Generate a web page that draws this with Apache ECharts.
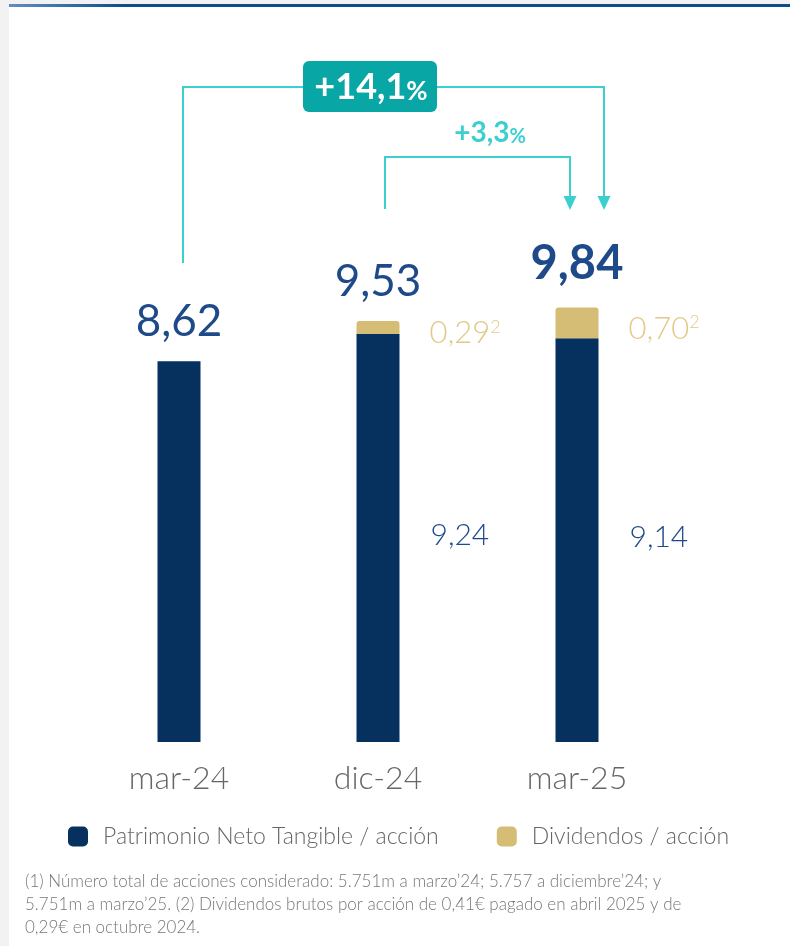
<!DOCTYPE html>
<html>
<head>
<meta charset="utf-8">
<script src="https://cdn.jsdelivr.net/npm/echarts@6/dist/echarts.min.js"></script>
<style>
body { margin: 0; background: #fff; }
#strip-left { position: absolute; left: 0; top: 0; width: 9px; height: 946px; background: #f2f2f2; }
#strip-top { position: absolute; left: 0; top: 0; width: 790px; height: 4px; background: #f2f2f2; }
#topline { position: absolute; left: 9px; top: 4px; width: 781px; height: 3px; background: linear-gradient(to right, #5f8fbf, #0b4c8c 15%, #0b4c8c); }
#chart { position: absolute; left: 0; top: 0; width: 790px; height: 946px; }
</style>
</head>
<body>
<div id="strip-left"></div>
<div id="strip-top"></div>
<div id="topline"></div>
<div id="chart"></div>
<script>
// datos
var periodos = ['mar-24', 'dic-24', 'mar-25'];
var pntAccion = [8.62, 9.24, 9.14];
var dividendos = [null, 0.29, 0.70];
var totales = [8.62, 9.53, 9.84];
var variaciones = ['+14,1', '+3,3'];
var notas = [
  '(1) Número total de acciones considerado: 5.751m a marzo’24; 5.757 a diciembre’24; y',
  '5.751m a marzo’25. (2) Dividendos brutos por acción de 0,41€ pagado en abril 2025 y de',
  '0,29€ en octubre 2024.'
];

var NAVY = '#06305e';
var GOLD = '#d6bd76';
var AZUL = '#1e4a8a';
var TEAL = '#09a6a6';
var CYAN = '#3ccfd0';
var FONT = 'Lato';

function coma(v) { return v.toFixed(2).replace('.', ','); }

var chart = echarts.init(document.getElementById('chart'));

chart.setOption({
  animation: false,
  textStyle: { fontFamily: FONT },
  grid: { left: 79.5, right: 113.5, top: 212, bottom: 204 },
  legend: {
    left: 63, top: 820,
    itemWidth: 20, itemHeight: 20, itemGap: 58,
    icon: 'roundRect',
    data: ['Patrimonio Neto Tangible / acción', 'Dividendos / acción'],
    textStyle: { fontFamily: FONT, fontWeight: 300, fontSize: 23, color: '#666', padding: [0, 0, 0, 10] }
  },
  xAxis: {
    type: 'category',
    data: periodos,
    axisLine: { show: false },
    axisTick: { show: false },
    axisLabel: { margin: 21, fontSize: 32, fontWeight: 300, color: '#666', fontFamily: FONT }
  },
  yAxis: { type: 'value', min: 0, max: 12, show: false, splitLine: { show: false } },
  series: [
    {
      name: 'Patrimonio Neto Tangible / acción',
      type: 'bar', stack: 'a', barWidth: 43,
      itemStyle: { color: NAVY },
      data: pntAccion.map(function (v, i) {
        return { value: v, label: { show: i > 0 } };
      }),
      label: {
        position: 'right', distance: 31, offset: [0, -3],
        fontSize: 30, fontWeight: 300, color: AZUL, fontFamily: FONT,
        formatter: function (p) { return coma(p.value); }
      }
    },
    {
      name: 'Dividendos / acción',
      type: 'bar', stack: 'a', barWidth: 43,
      itemStyle: { color: GOLD, borderRadius: [3, 3, 0, 0] },
      data: dividendos,
      label: {
        show: true, position: 'right', distance: 30, offset: [0, 6],
        formatter: function (p) { return '{a|' + coma(p.value) + '}{s|2}'; },
        rich: {
          a: { fontSize: 31, fontWeight: 300, color: '#e2c98a', fontFamily: FONT },
          s: { fontSize: 18, fontWeight: 300, color: '#e2c98a', fontFamily: FONT, verticalAlign: 'top' }
        }
      }
    },
    {
      name: 'Total',
      type: 'scatter', symbolSize: 0,
      itemStyle: { opacity: 1 },
      data: totales.map(function (v, i) {
        var ultimo = i === totales.length - 1;
        return {
          value: [i, v],
          label: ultimo ? { fontWeight: 'bold', fontSize: 47, distance: 20 } : {}
        };
      }),
      label: {
        show: true, position: 'top', distance: 17,
        fontSize: 44, color: AZUL, fontFamily: FONT,
        formatter: function (p) { return coma(p.value[1]); }
      }
    }
  ]
});

// corchetes de variación, x tomada de las categorías
function px(i) { return chart.convertToPixel({ gridIndex: 0 }, [i, 0])[0]; }
var x0 = px(0) + 4, x1 = px(1) + 7, x2a = px(2) - 7, x2b = px(2) + 27;
var yBig = 87, ySmall = 157, yTip = 210;

function flecha(x) {
  return {
    type: 'polygon',
    shape: { points: [[x - 6.5, yTip - 14], [x + 6.5, yTip - 14], [x, yTip]] },
    style: { fill: CYAN }
  };
}

chart.setOption({
  graphic: [
    { type: 'polyline', shape: { points: [[x0, 263], [x0, yBig], [x2b, yBig], [x2b, yTip - 12]] },
      style: { stroke: CYAN, lineWidth: 2, fill: null } },
    flecha(x2b),
    { type: 'polyline', shape: { points: [[x1, 209], [x1, ySmall], [x2a, ySmall], [x2a, yTip - 12]] },
      style: { stroke: CYAN, lineWidth: 2, fill: null } },
    flecha(x2a),
    { type: 'rect', shape: { x: 303, y: 61, width: 134, height: 51, r: 6 }, style: { fill: TEAL } },
    { type: 'text', x: 371, y: 87,
      style: {
        text: '{n|' + variaciones[0] + '}{p|%}',
        align: 'center', verticalAlign: 'middle',
        rich: {
          n: { fontSize: 36, fontWeight: 'bold', fill: '#fff', fontFamily: FONT },
          p: { fontSize: 26, fontWeight: 'bold', fill: '#fff', fontFamily: FONT, verticalAlign: 'bottom' }
        }
      } },
    { type: 'text', x: 490, y: 133,
      style: {
        text: '{n|' + variaciones[1] + '}{p|%}',
        align: 'center', verticalAlign: 'middle',
        rich: {
          n: { fontSize: 28, fontWeight: 'bold', fill: CYAN, fontFamily: FONT },
          p: { fontSize: 20, fontWeight: 'bold', fill: CYAN, fontFamily: FONT, verticalAlign: 'bottom' }
        }
      } },
    { type: 'text', left: 25, top: 870,
      style: { text: notas.join('\n'), fontSize: 17, lineHeight: 23, fontWeight: 300, fill: '#777', fontFamily: FONT } }
  ]
});
</script>
</body>
</html>
